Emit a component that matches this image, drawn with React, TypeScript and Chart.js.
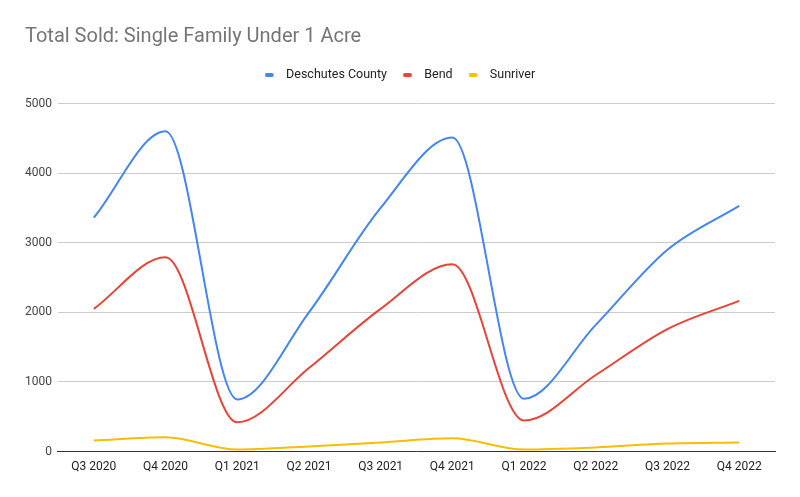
import React, { useEffect, useRef } from "react";
import { Chart, registerables } from "chart.js";

Chart.register(...registerables);

const categories = ["Q3 2020", "Q4 2020", "Q1 2021", "Q2 2021", "Q3 2021", "Q4 2021", "Q1 2022", "Q2 2022", "Q3 2022", "Q4 2022"];
const deschutes = [3360, 4600, 750, 2000, 3500, 4510, 760, 1820, 2900, 3530];
const bend = [2050, 2790, 420, 1200, 2050, 2690, 445, 1100, 1760, 2165];
const sunriver = [160, 205, 30, 75, 130, 190, 30, 60, 115, 130];
const yTicks = [0, 1000, 2000, 3000, 4000, 5000];

const legendSpacer = {
  id: "legendSpacer",
  beforeInit(chart: any) {
    const orig = chart.legend.fit;
    chart.legend.fit = function fit() {
      orig.bind(chart.legend)();
      this.height += 12;
    };
  },
};

function marker(color: string) {
  const c = document.createElement("canvas");
  c.width = 15;
  c.height = 4;
  const g = c.getContext("2d")!;
  g.fillStyle = color;
  g.beginPath();
  (g as any).roundRect ? (g as any).roundRect(0, 0, 9, 4, 2) : g.rect(0, 0, 9, 4);
  g.fill();
  return c;
}

export default function App() {
  const ref = useRef<HTMLCanvasElement>(null);
  useEffect(() => {
    document.body.style.margin = "0";
    const ctx = ref.current!;
    const mk = (label: string, data: number[], color: string) => ({
      label,
      data,
      borderColor: color,
      backgroundColor: color,
      borderWidth: 2,
      pointRadius: 0,
      pointHoverRadius: 0,
      pointStyle: marker(color),
      cubicInterpolationMode: "monotone" as const,
      fill: false,
    });
    const chart = new Chart(ctx, {
      type: "line",
      data: {
        labels: categories,
        datasets: [
          mk("Deschutes County", deschutes, "#4285F4"),
          mk("Bend", bend, "#EA4335"),
          mk("Sunriver", sunriver, "#FBBC04"),
        ],
      },
      plugins: [legendSpacer],
      options: {
        animation: false,
        responsive: false,
        layout: { padding: { left: 25, right: 25, top: 0, bottom: 15 } },
        plugins: {
          title: {
            display: true,
            text: "Total Sold: Single Family Under 1 Acre",
            align: "start",
            color: "#757575",
            font: { family: "Roboto", size: 20, weight: "normal" },
            padding: { top: 25, bottom: 4 },
          },
          legend: {
            display: true,
            position: "top",
            labels: {
              usePointStyle: true,
              pointStyleWidth: 15,
              boxHeight: 12,
              color: "#222222",
              font: { family: "Roboto", size: 12.5 },
              padding: 16,
            },
          },
          tooltip: { enabled: false },
        },
        scales: {
          x: {
            offset: true,
            grid: { display: false, drawTicks: false },
            border: { display: true, color: "#333333", width: 1 },
            ticks: {
              color: "#222222",
              font: { family: "Roboto", size: 12 },
              padding: 8,
              maxRotation: 0,
              autoSkip: false,
            },
          },
          y: {
            min: 0,
            max: 5000,
            afterBuildTicks: (axis: any) => {
              axis.ticks = yTicks.map((v) => ({ value: v }));
            },
            afterFit: (axis: any) => {
              axis.width -= 6;
            },
            grid: { color: "#cccccc", drawTicks: false },
            border: { display: false },
            ticks: {
              color: "#444444",
              font: { family: "Roboto", size: 12 },
              padding: 6,
              callback: (v: any) => String(v),
            },
          },
        },
      },
    });
    return () => chart.destroy();
  }, []);
  return <canvas ref={ref} width={800} height={497} style={{ display: "block" }} />;
}
